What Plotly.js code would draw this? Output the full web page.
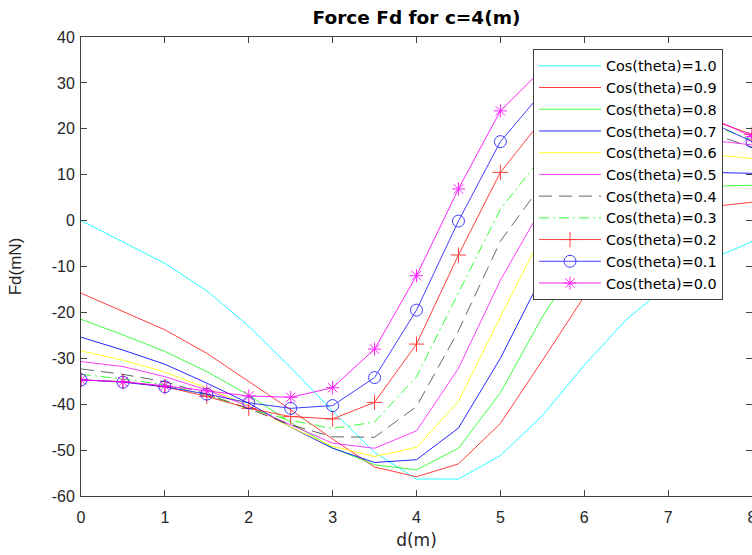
<!DOCTYPE html>
<html>
<head>
<meta charset="utf-8">
<script src="https://cdn.plot.ly/plotly-3.0.1.min.js"></script>
<style>html,body{margin:0;padding:0;background:#fff;}#chart{width:752px;height:555px;}</style>
</head>
<body>
<div id="chart"></div>
<script>
const d = [0,0.5,1,1.5,2,2.5,3,3.5,4,4.5,5,5.5,6,6.5,7,7.5,8];
const seriesNames = ["Cos(theta)=1.0","Cos(theta)=0.9","Cos(theta)=0.8","Cos(theta)=0.7","Cos(theta)=0.6","Cos(theta)=0.5","Cos(theta)=0.4","Cos(theta)=0.3","Cos(theta)=0.2","Cos(theta)=0.1","Cos(theta)=0.0"];
const cos10 = [0,-4.6,-9.3,-15.3,-23,-32,-41.5,-50.5,-56.3,-56.3,-51.2,-42.5,-31.5,-21.6,-14,-8.5,-4.6];
const cos09 = [-15.8,-19.8,-23.8,-28.9,-35.1,-41.2,-47.6,-53.7,-55.8,-53,-44.2,-30.5,-16.5,-6,0,3,4];
const cos08 = [-21.5,-24.9,-28.5,-32.9,-38,-44,-49.5,-53.2,-54.3,-49.6,-37.5,-21,-7,1,5.5,7.5,7.7];
const cos07 = [-25.4,-28.2,-31.3,-35.4,-39.8,-45,-49.6,-52.7,-52.1,-45.2,-30,-12,0,6,9,10.5,10.3];
const cos06 = [-28.4,-30.4,-33,-36.5,-40.3,-45,-49.2,-51.4,-49.4,-39.4,-21,-3,6,11,13.5,14.5,13.5];
const cos05 = [-30.7,-31.8,-34,-36.9,-40.5,-44.5,-48.5,-49.6,-45.8,-32.2,-13,3,12,16,17.5,17.5,16.5];
const cos04 = [-32.3,-33.5,-35.1,-37.8,-41,-44.5,-47.1,-47.2,-40.5,-24,-4.5,8,17,21,21.5,19,16];
const cos03 = [-33.5,-34.5,-35.8,-38,-41,-43.5,-45.3,-43.9,-34,-15.8,2.5,14,22,25,24,21,17.5];
const cos02 = [-34.7,-35.1,-36.2,-38.3,-40.9,-42.7,-43.2,-39.6,-26.9,-7.5,10.5,22,28,29,26.5,22,18.8];
const cos01 = [-34.7,-35.2,-36.2,-37.8,-39.7,-40.9,-40.3,-34.2,-19.5,-0.1,17.2,28,32,31,27,21.5,17.2];
const cos00 = [-34.7,-35.1,-36,-37.1,-38.2,-38.5,-36.4,-28,-12,6.9,23.9,33,35,33,28,22.5,18.3];
const allY = [cos10,cos09,cos08,cos07,cos06,cos05,cos04,cos03,cos02,cos01,cos00];

const xTickVals = [0,1,2,3,4,5,6,7,8];
const xTickText = ["0","1","2","3","4","5","6","7","8"];
const yTickVals = [-60,-50,-40,-30,-20,-10,0,10,20,30,40];
const yTickText = ["-60","-50","-40","-30","-20","-10","0","10","20","30","40"];

const colors = ["#00FFFF","#FF0000","#00FF00","#0000FF","#FFFF00","#FF00FF","#000000","#00FF00","#FF0000","#0000FF","#FF00FF"];
const dashes = ["solid","solid","solid","solid","solid","solid","13px,7px","10px,4px,2px,4px","solid","solid","solid"];
const symbols = [null,null,null,null,null,null,null,null,"cross-thin-open","circle-open","asterisk-open"];
const opac = [0.85,0.75,0.75,0.85,0.85,0.75,0.6,0.8,0.75,0.75,0.85];

const traces = allY.map((y,i)=>{
  const t = {
    x: d, y: y, name: seriesNames[i], type: 'scatter',
    mode: symbols[i] ? 'lines+markers' : 'lines',
    line: {color: colors[i], width: 1, dash: dashes[i]},
    opacity: opac[i]
  };
  if (symbols[i]) {
    t.marker = {symbol: symbols[i], size: symbols[i]==='circle-open' ? 12 : 11, color: colors[i], line: {color: colors[i], width: 1}};
  }
  return t;
});

const axisCommon = {
  showline: true, linecolor: '#404040', linewidth: 1, mirror: 'ticks',
  ticks: 'inside', ticklen: 6, tickcolor: '#404040', tickwidth: 1,
  showgrid: false, zeroline: false,
  tickfont: {family: 'Liberation Sans, Arial, sans-serif', size: 16, color: '#262626'}
};

const layout = {
  width: 752, height: 555,
  margin: {l: 81, r: 0, t: 37, b: 59},
  paper_bgcolor: '#fff', plot_bgcolor: '#fff',
  showlegend: true,
  title: {text: '<b>Force Fd for c=4(m)</b>', x: 0.5, xref: 'paper', y: 0.968, yref: 'container', yanchor: 'middle',
    font: {family: 'DejaVu Sans, sans-serif', size: 18.5, color: '#000'}},
  xaxis: Object.assign({}, axisCommon, {range: [0, 8], tickmode: 'array', tickvals: xTickVals, ticktext: xTickText,
    ticklabelstandoff: 7, ticklabeloverflow: 'allow',
    title: {text: 'd(m)', standoff: 8, font: {family: 'DejaVu Sans, sans-serif', size: 17, color: '#262626'}}}),
  yaxis: Object.assign({}, axisCommon, {range: [-60, 40], tickmode: 'array', tickvals: yTickVals, ticktext: yTickText,
    ticklabelstandoff: 2,
    title: {text: 'Fd(mN)', standoff: 25, font: {family: 'Liberation Sans, Arial, sans-serif', size: 17, color: '#262626'}}}),
  legend: {x: 0.6736, y: 0.974, xanchor: 'left', yanchor: 'top', bgcolor: '#fff', bordercolor: '#404040', borderwidth: 1,
    font: {family: 'DejaVu Sans, sans-serif', size: 14.4, color: '#000'}, itemwidth: 62, tracegroupgap: 0}
};

Plotly.newPlot('chart', traces, layout, {displayModeBar: false, staticPlot: true});
</script>
</body>
</html>
